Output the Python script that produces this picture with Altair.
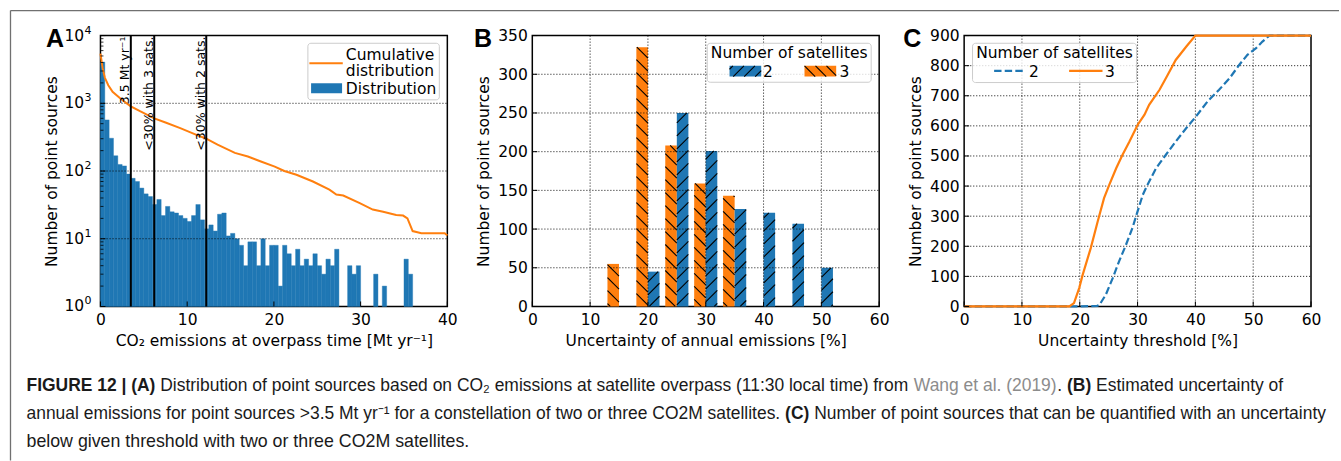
import math
import altair as alt
import pandas as pd

BLUE = "#1f77b4"
ORANGE = "#ff7f0e"
W, H = 347, 271
FONT = "DejaVu Sans"
CAP_FONT = "Liberation Sans"
FS = 15.5

# ---------------- Panel A: distribution of point sources ----------------
a_bin_width = 0.5
a_counts = [4060, 569, 305, 168, 125, 119, 90, 78, 70, 56,
            46, 42, 32, 38, 22, 30, 25, 24, 22, 20,
            18, 22, 32, 19, 14, 16, 13, 23, 24, 11,
            12, 10, 8, 4, 9, 9, 4, 10, 4, 8,
            8, 2, 8, 6, 4, 7, 4, 5, 4, 6,
            4, 3, 5, 4, 7, 0, 0, 4, 3, 4,
            0, 0, 0, 3, 0, 2, 0, 0, 0, 0,
            5, 3, 0, 0, 0, 0, 0, 0, 0, 0]
a_cum_x = [0.0, 0.25, 0.5, 0.9, 1.4, 2.2, 3.0, 3.5, 4.5, 6.2, 7.5, 9.2, 11.0, 12.2,
           13.5, 15.5, 17.0, 18.5, 20.1, 21.2, 22.6, 24.5, 26.4, 27.2, 28.0, 29.9,
           31.4, 32.6, 34.1, 34.9, 35.4, 36.0, 37.0, 39.7, 40.0]
a_cum_y = [5400, 3300, 2400, 1850, 1480, 1210, 1000, 900, 770, 600, 520, 430, 345, 300,
           245, 185, 164, 138, 116, 100, 88, 70, 53, 45, 43.5, 33.5,
           27, 25, 22.5, 22, 20, 13, 12.1, 12.1, 11.2]
a_thresholds = [3.5, 6.2, 12.2]
a_threshold_labels = ["3.5 Mt yr\u207b\u00b9", "<30% with 3 sats.", "<30% with 2 sats."]
a_x_ticks = [0, 10, 20, 30, 40]
a_y_ticks = [1, 10, 100, 1000, 10000]
a_y_exponents = ["0", "1", "2", "3", "4"]
a_y_grid = [10, 100, 1000]
a_minor_mult = [2, 3, 4, 5, 6, 7, 8, 9]

# ---------------- Panel B: uncertainty of annual emissions ----------------
b_bin_centers = [15, 20, 25, 30, 35, 40, 45, 50]
b_counts_2sat = [0, 45, 250, 201, 126, 121, 107, 50]
b_counts_3sat = [55, 335, 208, 159, 143, 0, 0, 0]
b_x_ticks = [0, 10, 20, 30, 40, 50, 60]
b_y_ticks = [0, 50, 100, 150, 200, 250, 300, 350]

# ---------------- Panel C: sources below uncertainty threshold ----------------
c_x_3sat = [0, 18.2, 19.0, 19.9, 20.5, 21.9, 23.1, 24.2, 25.1, 26.3, 27.4, 28.6, 30.0,
            31.2, 32.0, 33.8, 35.2, 36.6, 38.4, 40.0, 60]
c_y_3sat = [0, 0, 11, 61, 105, 194, 282, 360, 404, 459, 504, 548, 603,
            637, 670, 720, 769, 819, 863, 900, 900]
c_x_2sat = [0, 20.2, 23.0, 23.4, 24.5, 25.7, 26.8, 28.0, 29.1, 30.0, 30.9, 31.7, 33.2,
            34.9, 36.6, 38.4, 40.1, 42.1, 44.1, 45.9, 47.6, 49.0, 50.5, 51.6, 52.8, 60]
c_y_2sat = [0, 0, 2, 5, 39, 94, 150, 205, 260, 316, 371, 404, 459,
            504, 548, 592, 631, 681, 720, 758, 803, 836, 858, 880, 900, 900]
c_x_ticks = [0, 10, 20, 30, 40, 50, 60]
c_y_ticks = [0, 100, 200, 300, 400, 500, 600, 700, 800, 900]

# ---------------- caption: (text, style, space after) per line ----------------
caption_lines = [
    [("FIGURE 12 | (A)", "bold", True),
     ("Distribution of point sources based on CO\u2082 emissions at satellite overpass (11:30 local time) from", "regular", True),
     ("Wang et al. (2019)", "link", False),
     (".", "regular", True),
     ("(B)", "bold", True),
     ("Estimated uncertainty of", "regular", False)],
    [("annual emissions for point sources >3.5 Mt yr\u207b\u00b9 for a constellation of two or three CO2M satellites.", "regular", True),
     ("(C)", "bold", True),
     ("Number of point sources that can be quantified with an uncertainty", "regular", False)],
    [("below given threshold with two or three CO2M satellites.", "regular", False)],
]
caption_baselines = [390, 418, 446]
caption_sizes = [17.45, 17.45, 17.8]
caption_left = 25

# advance widths (1/1000 em) of the caption typeface
ADV = {" ": 278, "(": 333, ")": 333, ".": 278, ":": 278, ">": 584, "<": 584, "|": 260,
       "%": 889, "\u2082": 350, "\u207b": 333, "\u00b9": 333,
       "A": 667, "B": 667, "C": 722, "D": 722, "E": 667, "F": 611, "G": 778, "I": 278,
       "M": 833, "N": 722, "O": 778, "R": 722, "U": 722, "W": 944,
       "a": 556, "b": 556, "c": 500, "d": 556, "e": 556, "f": 278, "g": 556, "h": 556,
       "i": 222, "k": 500, "l": 222, "m": 833, "n": 556, "o": 556, "p": 556, "q": 556,
       "r": 333, "s": 500, "t": 278, "u": 556, "v": 500, "w": 722, "x": 500, "y": 500}
for d in "0123456789":
    ADV[d] = 556
ADV_BOLD = dict(ADV, **{"|": 280, "A": 722, "B": 722, "C": 722})

GRID_STYLE = dict(color="black", strokeWidth=0.8, strokeDash=[1.2, 1.8])
HATCH_STEP = 13


def text_width(text, size, bold=False):
    table = ADV_BOLD if bold else ADV
    return sum(table.get(ch, 556) for ch in text) * size / 1000.0


def text_at(text, x, y, size=FS, font=FONT, weight="normal", align="left",
            baseline="alphabetic", color="black", angle=0):
    return alt.Chart(pd.DataFrame({"t": [text]})).mark_text(
        align=align, baseline=baseline, font=font, fontSize=size,
        fontWeight=weight, color=color, angle=angle
    ).encode(x=alt.value(x), y=alt.value(y), text="t:N")


def rule_px(x, y, x2, y2, color="black", width=1.0, dash=None):
    kw = dict(color=color, strokeWidth=width)
    if dash:
        kw["strokeDash"] = dash
    return alt.Chart(pd.DataFrame({"t": [0]})).mark_rule(**kw).encode(
        x=alt.value(x), y=alt.value(y), x2=alt.value(x2), y2=alt.value(y2))


def rect_px(x, y, x2, y2, **kw):
    return alt.Chart(pd.DataFrame({"t": [0]})).mark_rect(**kw).encode(
        x=alt.value(x), y=alt.value(y), x2=alt.value(x2), y2=alt.value(y2))


def diag_segments(x0, x1, y0, y1, slope, step):
    """45-degree hatch lines clipped to a box (y pointing up)."""
    segs = []
    if slope > 0:
        cmin, cmax = y0 - x1, y1 - x0
    else:
        cmin, cmax = y0 + x0, y1 + x1
    k = math.floor(cmin / step)
    while k * step <= cmax:
        c = k * step
        if slope > 0:
            lo, hi = max(x0, y0 - c), min(x1, y1 - c)
            if hi - lo > 0.3:
                segs.append((lo, lo + c, hi, hi + c))
        else:
            lo, hi = max(x0, c - y1), min(x1, c - y0)
            if hi - lo > 0.3:
                segs.append((lo, c - lo, hi, c - hi))
        k += 1
    return segs


def x_axis(title, values):
    return alt.Axis(title=title, values=values, labelPadding=6, titleY=39,
                    titleBaseline="alphabetic")


def y_axis(values, **extra):
    return alt.Axis(title="Number of point sources", values=values, labelPadding=5,
                    titleX=-48.5, titleY=H / 2, titleAngle=270, titleBaseline="middle",
                    titleAlign="center", **extra)


def legend_box(x0, y0, x1, y1):
    return rect_px(x0, y0, x1, y1, fill="white", fillOpacity=0.8, stroke="#cccccc",
                   strokeWidth=1, cornerRadius=3)


def caption_layers(ox, oy):
    layers = []
    for line, (segments, base, size) in enumerate(zip(caption_lines, caption_baselines, caption_sizes)):
        x = caption_left
        for text, style, space in segments:
            bold = style == "bold"
            color = "#8c8c8c" if style == "link" else "#1a1a1a"
            layers.append(text_at(text, x - ox, base - oy, size=size, font=CAP_FONT,
                                  weight="bold" if bold else "normal", color=color))
            x += text_width(text, size, bold)
            if space:
                x += text_width(" ", size)
    return layers


# ======================= Panel A =======================
edges = [i * a_bin_width for i in range(len(a_counts) + 1)]
df_a_bars = pd.DataFrame({"x": edges[:-1], "x2": edges[1:], "y": a_counts})
df_a_bars = df_a_bars[df_a_bars["y"] > 0].assign(y2=1)

xa = alt.X("x:Q", scale=alt.Scale(domain=[0, 40], nice=False, zero=False),
           axis=x_axis("CO\u2082 emissions at overpass time [Mt yr\u207b\u00b9]", a_x_ticks))
ya = alt.Y("y:Q", scale=alt.Scale(type="log", domain=[1, 10000], nice=False),
           axis=y_axis(a_y_ticks, labels=False))

a_bars = alt.Chart(df_a_bars).mark_rect(color=BLUE, stroke=BLUE, strokeWidth=0.4).encode(
    x=xa, x2="x2:Q", y=ya, y2="y2:Q")
a_grid = alt.Chart(pd.DataFrame({"y": a_y_grid})).mark_rule(**GRID_STYLE).encode(
    y=ya, x=alt.value(0), x2=alt.value(W))
a_line = alt.Chart(pd.DataFrame({"x": a_cum_x, "y": a_cum_y})).mark_line(
    color=ORANGE, strokeWidth=2).encode(x=xa, y=ya)
a_vlines = alt.Chart(pd.DataFrame({"x": a_thresholds})).mark_rule(
    color="black", strokeWidth=2).encode(x=xa, y=alt.value(0), y2=alt.value(H))
a_vtext = alt.Chart(pd.DataFrame({"x": a_thresholds, "t": a_threshold_labels})).mark_text(
    angle=270, align="right", baseline="alphabetic", dy=-1.5, font=FONT, fontSize=12.5,
    color="black").encode(x=xa, y=alt.value(1), text="t:N")
a_minor = [m * 10 ** d for d in range(4) for m in a_minor_mult]
a_ticks_minor = alt.Chart(pd.DataFrame({"y": a_minor})).mark_rule(color="black", strokeWidth=0.8).encode(
    y=ya, x=alt.value(0), x2=alt.value(3))
a_ticks_major = alt.Chart(pd.DataFrame({"y": a_y_ticks})).mark_rule(color="black", strokeWidth=1).encode(
    y=ya, x=alt.value(0), x2=alt.value(5))
a_ticks_x = alt.Chart(pd.DataFrame({"x": a_x_ticks})).mark_rule(color="black", strokeWidth=1).encode(
    x=xa, y=alt.value(H), y2=alt.value(H - 5))
# log tick labels: "10" with a raised exponent
a_ylab_base = alt.Chart(pd.DataFrame({"y": a_y_ticks, "t": ["10"] * len(a_y_ticks)})).mark_text(
    align="right", baseline="middle", font=FONT, fontSize=FS, color="black").encode(
    y=ya, x=alt.value(-16.3), text="t:N")
a_ylab_exp = alt.Chart(pd.DataFrame({"y": a_y_ticks, "t": a_y_exponents})).mark_text(
    align="left", baseline="alphabetic", font=FONT, fontSize=11, dy=-2, color="black").encode(
    y=ya, x=alt.value(-16), text="t:N")

a_legend = [
    legend_box(207.5, 7.7, 339, 64.3),
    rule_px(209, 27.7, 242.4, 27.7, color=ORANGE, width=2),
    text_at("Cumulative", 245.5, 24.3),
    text_at("distribution", 245.5, 40.3),
    rect_px(210.7, 47.7, 241.7, 57.7, fill=BLUE),
    text_at("Distribution", 245.5, 58.3),
]

# page border (top and left edges of the figure box)
a_frame = [
    rule_px(-90, -25, -90, 425, color="#707070", width=1.3),
    rule_px(-90, -25, 1239, -25, color="#707070", width=1.3),
]

panel_a = alt.layer(
    *a_frame, a_bars, a_grid, a_line, a_vlines, a_vtext, a_ticks_minor, a_ticks_major, a_ticks_x,
    a_ylab_base, a_ylab_exp,
    *a_legend,
    text_at("A", -54.5, 11, size=25, font=CAP_FONT, weight="bold"),
    *caption_layers(99, 34),
).properties(width=W, height=H)

# ======================= Panel B =======================
sx_b, sy_b = W / 60.0, H / 350.0
rows_b = []
hatch_b = []
for c, n2, n3 in zip(b_bin_centers, b_counts_2sat, b_counts_3sat):
    for n, x0, x1, sat, slope in ((n3, c - 2, c, "3", -1), (n2, c, c + 2, "2", 1)):
        if n <= 0:
            continue
        rows_b.append({"x": x0, "x2": x1, "y": n, "y2": 0, "sat": sat})
        for X0, Y0, X1, Y1 in diag_segments(x0 * sx_b, x1 * sx_b, 0, n * sy_b, slope, HATCH_STEP):
            hatch_b.append({"x": X0 / sx_b, "y": Y0 / sy_b, "x2": X1 / sx_b, "y2": Y1 / sy_b})
df_b = pd.DataFrame(rows_b)

xb = alt.X("x:Q", scale=alt.Scale(domain=[0, 60], nice=False, zero=False),
           axis=x_axis("Uncertainty of annual emissions [%]", b_x_ticks))
yb = alt.Y("y:Q", scale=alt.Scale(domain=[0, 350], nice=False), axis=y_axis(b_y_ticks))

b_bars = alt.Chart(df_b).mark_rect().encode(
    x=xb, x2="x2:Q", y=yb, y2="y2:Q",
    color=alt.Color("sat:N", scale=alt.Scale(domain=["2", "3"], range=[BLUE, ORANGE]), legend=None))
b_hatch = alt.Chart(pd.DataFrame(hatch_b)).mark_rule(color="black", strokeWidth=1.1).encode(
    x=xb, y=yb, x2="x2:Q", y2="y2:Q")
b_vgrid = alt.Chart(pd.DataFrame({"x": b_x_ticks[1:-1]})).mark_rule(**GRID_STYLE).encode(
    x=xb, y=alt.value(0), y2=alt.value(H))
b_hgrid = alt.Chart(pd.DataFrame({"y": b_y_ticks[1:-1]})).mark_rule(**GRID_STYLE).encode(
    y=yb, x=alt.value(0), x2=alt.value(W))
b_ticks_x = alt.Chart(pd.DataFrame({"x": b_x_ticks})).mark_rule(color="black", strokeWidth=1).encode(
    x=xb, y=alt.value(H), y2=alt.value(H - 5))
b_ticks_y = alt.Chart(pd.DataFrame({"y": b_y_ticks})).mark_rule(color="black", strokeWidth=1).encode(
    y=yb, x=alt.value(0), x2=alt.value(5))


def legend_patch(x0, y0, x1, y1, fill, slope):
    layers = [rect_px(x0, y0, x1, y1, fill=fill)]
    for X0, Y0, X1, Y1 in diag_segments(x0, x1, -y1, -y0, slope, 11):
        layers.append(rule_px(X0, -Y0, X1, -Y1, width=1.1))
    return layers


b_legend = [
    legend_box(175, 7.7, 339, 46.7),
    text_at("Number of satellites", 257, 22.7, align="center"),
    *legend_patch(197.3, 30.3, 229, 41, BLUE, 1),
    text_at("2", 230.7, 41),
    *legend_patch(272.3, 30.3, 304, 41, ORANGE, -1),
    text_at("3", 307.3, 41),
]

panel_b = alt.layer(
    b_bars, b_vgrid, b_hgrid, b_hatch, b_ticks_x, b_ticks_y, *b_legend,
    text_at("B", -58.3, 11, size=25, font=CAP_FONT, weight="bold"),
).properties(width=W, height=H)

# ======================= Panel C =======================
xc = alt.X("x:Q", scale=alt.Scale(domain=[0, 60], nice=False, zero=False),
           axis=x_axis("Uncertainty threshold [%]", c_x_ticks))
yc = alt.Y("y:Q", scale=alt.Scale(domain=[0, 900], nice=False), axis=y_axis(c_y_ticks))

c_vgrid = alt.Chart(pd.DataFrame({"x": c_x_ticks[1:-1]})).mark_rule(**GRID_STYLE).encode(
    x=xc, y=alt.value(0), y2=alt.value(H))
c_hgrid = alt.Chart(pd.DataFrame({"y": c_y_ticks[1:-1]})).mark_rule(**GRID_STYLE).encode(
    y=yc, x=alt.value(0), x2=alt.value(W))
c_line2 = alt.Chart(pd.DataFrame({"x": c_x_2sat, "y": c_y_2sat})).mark_line(
    color=BLUE, strokeWidth=2.2, strokeDash=[7.4, 3.2]).encode(x=xc, y=yc)
c_line3 = alt.Chart(pd.DataFrame({"x": c_x_3sat, "y": c_y_3sat})).mark_line(
    color=ORANGE, strokeWidth=2.2).encode(x=xc, y=yc)
c_ticks_x = alt.Chart(pd.DataFrame({"x": c_x_ticks})).mark_rule(color="black", strokeWidth=1).encode(
    x=xc, y=alt.value(H), y2=alt.value(H - 5))
c_ticks_y = alt.Chart(pd.DataFrame({"y": c_y_ticks})).mark_rule(color="black", strokeWidth=1).encode(
    y=yc, x=alt.value(0), x2=alt.value(5))

c_legend = [
    legend_box(8.4, 7.7, 172.4, 47),
    text_at("Number of satellites", 90.4, 22.7, align="center"),
    rule_px(30, 35.3, 60, 35.3, color=BLUE, width=2.2, dash=[7.4, 3.2]),
    text_at("2", 65, 41),
    rule_px(105, 35.3, 138.4, 35.3, color=ORANGE, width=2.2),
    text_at("3", 141, 41),
]

panel_c = alt.layer(
    c_vgrid, c_hgrid, c_line2, c_line3, c_ticks_x, c_ticks_y, *c_legend,
    text_at("C", -61, 11, size=25, font=CAP_FONT, weight="bold"),
).properties(width=W, height=H)

chart = alt.hconcat(panel_a, panel_b, panel_c, spacing=85, bounds="flush").properties(
    padding={"left": 8.5, "top": 8.5, "right": 0, "bottom": 0},
    background="white",
).configure_view(
    stroke="black", strokeWidth=1.5
).configure_axis(
    domain=False, ticks=False, grid=False,
    labelFont=FONT, labelFontSize=FS, labelColor="black",
    titleFont=FONT, titleFontSize=FS, titleFontWeight="normal", titleColor="black",
    labelFlush=False, labelOverlap=False, labelBound=False,
)

chart.save("out.html", embed_options={"renderer": "svg", "actions": False})
